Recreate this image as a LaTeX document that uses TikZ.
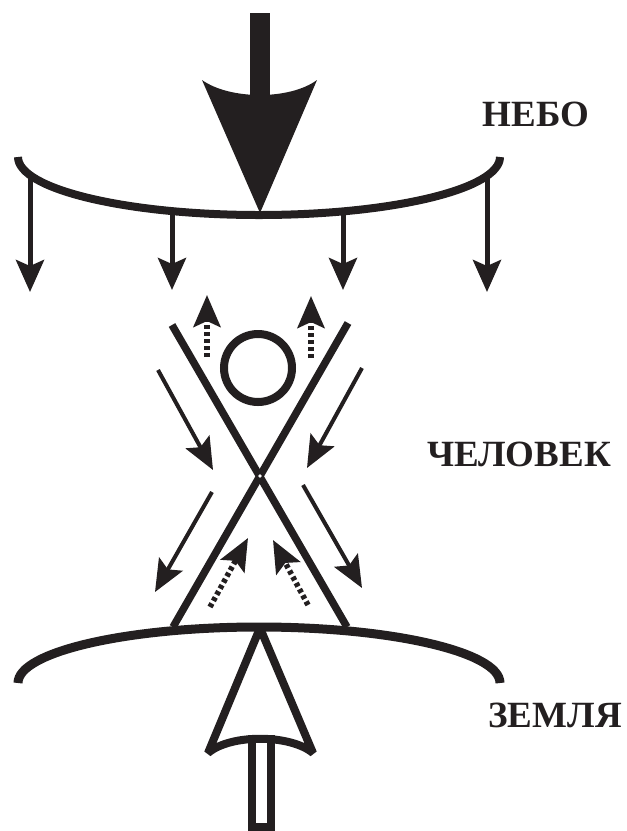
\documentclass[tikz,border=0pt]{standalone}
\usepackage{fontspec}
\setmainfont{Liberation Serif}
\usetikzlibrary{arrows.meta}
\definecolor{ink}{RGB}{35,31,32}
\begin{document}
\begin{tikzpicture}[x=1pt,y=-1pt,
  heavy/.style={draw=ink,line width=8pt},
  cross/.style={draw=ink,line width=7.5pt},
  bigtip/.style={-{Stealth[length=32pt,width=28pt,inset=6pt]}},
  downarrow/.style={draw=ink,line width=5pt,bigtip},
  slantarrow/.style={draw=ink,line width=4pt,-{Stealth[length=32pt,width=27pt,inset=6pt]}},
  dotarrow/.style={draw=ink,line width=5.5pt,dash pattern=on 4pt off 3pt,-{Stealth[length=32pt,width=27pt,inset=6pt]}},
  label/.style={text=ink,font=\bfseries\fontsize{37}{37}\selectfont}]
\useasboundingbox (0,0) rectangle (627,831);

% big top arrow
\fill[ink] (250,13) rectangle (270,95);
\fill[ink] (202,80) -- (260,213) -- (317,80) .. controls (290,100) and (230,100) .. (202,80) -- cycle;

% sky arc
\draw[heavy] (18,157) arc[start angle=180,end angle=0,x radius=241,y radius=58];

% small downward arrows
\draw[downarrow] (30,175) -- (30,292);
\draw[downarrow] (172,210) -- (172,290);
\draw[downarrow] (343,210) -- (343,290);
\draw[downarrow] (487,176) -- (487,292);

% X figure
\draw[cross] (172,325) -- (347,627);
\draw[cross] (348,323) -- (173,627);
\fill[white] (260,476) circle (1.8);

% head circle
\draw[heavy] (258,368) circle (34);

% dotted upward arrows
\draw[dotarrow] (207,357) -- (207,295);
\draw[dotarrow] (311,358) -- (311,296);

% slanted solid arrows
\draw[slantarrow] (158,370) -- (213,470);
\draw[slantarrow] (362,368) -- (307,468);
\draw[slantarrow] (212,492) -- (155,592);
\draw[slantarrow] (303,485) -- (362,588);

% dotted slanted arrows
\draw[dotarrow] (210,607) -- (248,538);
\draw[dotarrow] (308,605) -- (273,540);

% earth arc
\draw[draw=ink,line width=9pt] (18,683) arc[start angle=180,end angle=360,x radius=241,y radius=56];

% bottom outlined arrow
\draw[heavy,line join=bevel] (260,628) -- (313,753) .. controls (290,734) and (230,734) .. (208,753) -- cycle;
\draw[heavy] (252,739) rectangle (271,827);

% labels
\node[label] (nebo) at (536,114) {НЕБО};
\node[label] (chelovek) at (519,454) {ЧЕЛОВЕК};
\node[label] (zemlya) at (555,715) {ЗЕМЛЯ};
\end{tikzpicture}
\end{document}
